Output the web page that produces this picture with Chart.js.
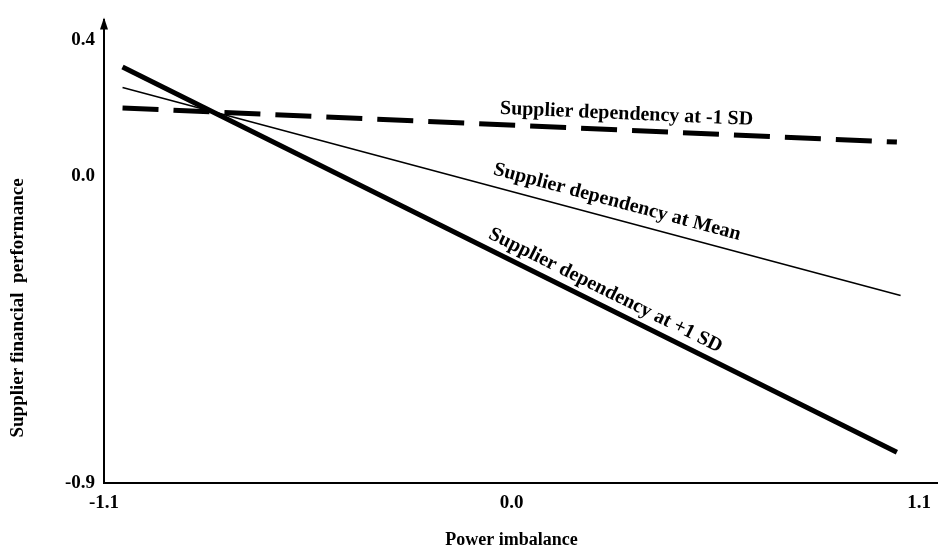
<!DOCTYPE html>
<html>
<head>
<meta charset="utf-8">
<script src="https://cdn.jsdelivr.net/npm/chart.js@4"></script>
<style>
  html, body { margin: 0; padding: 0; background: #fff; }
  #wrap { width: 940px; height: 549px; }
</style>
</head>
<body>
<div id="wrap"><canvas id="c" width="940" height="549"></canvas></div>
<script>
// Tick labels on both axes
const xTicks = [-1.1, 0.0, 1.1];
const yTicks = [0.4, 0.0, -0.9];

// Simple slopes: supplier financial performance vs. power imbalance
const seriesNames = [
  'Supplier dependency at +1 SD',
  'Supplier dependency at Mean',
  'Supplier dependency at -1 SD'
];
const xPlus1SD = [-1.05, 1.04];
const yPlus1SD = [0.32, -0.81];
const xMean = [-1.05, 1.05];
const yMean = [0.26, -0.35];
const xMinus1SD = [-1.05, 1.04];
const yMinus1SD = [0.20, 0.10];

const xTitle = 'Power imbalance';
const yTitle = 'Supplier financial  performance';

const SERIF = "'Liberation Serif', 'Times New Roman', serif";

function pts(xs, ys) { return xs.map((x, i) => ({ x: x, y: ys[i] })); }

// Where along each line its label sits (fraction of length) and how far above it
const labelPlace = [
  { t: 0.615, off: 15 },
  { t: 0.63, off: 17 },
  { t: 0.65, off: 16 }
];

const decorations = {
  id: 'decorations',
  afterDatasetsDraw(chart) {
    const ctx = chart.ctx;
    const xs = chart.scales.x;
    const area = chart.chartArea;
    ctx.save();
    ctx.fillStyle = '#000';

    // arrow head on the vertical axis
    const ax = area.left;
    ctx.beginPath();
    ctx.moveTo(ax, area.top - 3);
    ctx.lineTo(ax - 4, area.top + 9);
    ctx.lineTo(ax + 4, area.top + 9);
    ctx.closePath();
    ctx.fill();

    // line labels, written along each line
    ctx.font = 'bold 20px ' + SERIF;
    ctx.textAlign = 'center';
    ctx.textBaseline = 'middle';
    chart.data.datasets.forEach((ds, i) => {
      const meta = chart.getDatasetMeta(i);
      const p0 = meta.data[0], p1 = meta.data[meta.data.length - 1];
      const a = Math.atan2(p1.y - p0.y, p1.x - p0.x);
      const pl = labelPlace[i];
      const cx = p0.x + (p1.x - p0.x) * pl.t + Math.sin(a) * pl.off;
      const cy = p0.y + (p1.y - p0.y) * pl.t - Math.cos(a) * pl.off;
      ctx.save();
      ctx.translate(cx, cy);
      ctx.rotate(a);
      ctx.fillText(ds.label, 0, 0);
      ctx.restore();
    });

    // axis titles
    ctx.font = 'bold 18px ' + SERIF;
    ctx.fillText(xTitle, xs.getPixelForValue(0), 540);
    ctx.save();
    ctx.translate(18, 308);
    ctx.rotate(-Math.PI / 2);
    ctx.font = 'bold 19px ' + SERIF;
    ctx.fillText(yTitle, 0, 0);
    ctx.restore();

    ctx.restore();
  }
};

const tickFont = { family: SERIF, size: 19, weight: 'bold' };

new Chart(document.getElementById('c'), {
  type: 'scatter',
  data: {
    datasets: [
      { label: seriesNames[0], data: pts(xPlus1SD, yPlus1SD), borderWidth: 5 },
      { label: seriesNames[1], data: pts(xMean, yMean), borderWidth: 1.6 },
      { label: seriesNames[2], data: pts(xMinus1SD, yMinus1SD), borderWidth: 5, borderDash: [36, 15] }
    ].map(d => Object.assign({
      showLine: true,
      pointRadius: 0,
      borderColor: '#000',
      backgroundColor: '#000',
      borderCapStyle: 'butt',
      tension: 0
    }, d))
  },
  options: {
    responsive: false,
    animation: false,
    devicePixelRatio: 1,
    layout: { padding: { top: 14, right: 0, bottom: 0, left: 0 } },
    plugins: { legend: { display: false }, tooltip: { enabled: false } },
    scales: {
      x: {
        type: 'linear',
        min: -1.1,
        max: 1.15,
        afterBuildTicks: s => { s.ticks = xTicks.map(v => ({ value: v })); },
        afterFit: s => { s.height = 66; },
        grid: { display: false, drawTicks: false },
        border: { display: true, color: '#000', width: 2 },
        ticks: {
          font: tickFont, color: '#000', padding: 9,
          maxRotation: 0, autoSkip: false,
          callback: v => Number(v).toFixed(1)
        }
      },
      y: {
        type: 'linear',
        min: -0.9,
        max: 0.457,
        afterBuildTicks: s => { s.ticks = yTicks.map(v => ({ value: v })); },
        afterFit: s => { s.width = 104; },
        grid: { display: false, drawTicks: false },
        border: { display: true, color: '#000', width: 2 },
        ticks: {
          font: tickFont, color: '#000', padding: 9,
          autoSkip: false,
          callback: v => Number(v).toFixed(1)
        }
      }
    }
  },
  plugins: [decorations]
});
</script>
</body>
</html>
